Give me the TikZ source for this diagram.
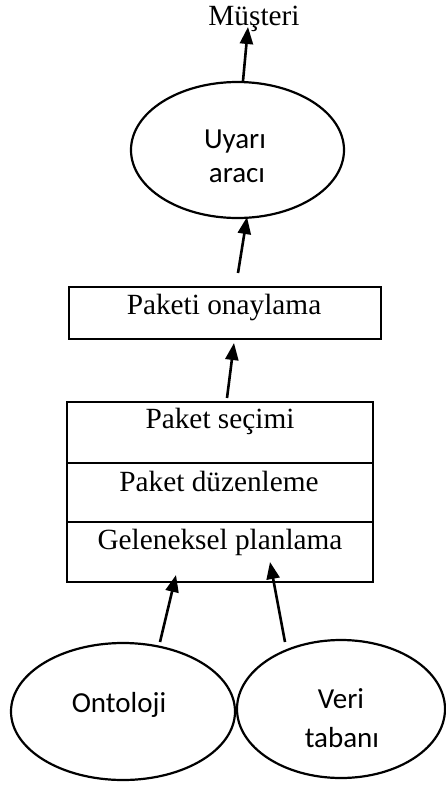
\documentclass[tikz,border=0pt]{standalone}
\usepackage{fontspec}
\setmainfont{Liberation Serif}
\newfontfamily\sansfnt{Carlito}
\usetikzlibrary{arrows.meta,shapes.geometric}
\begin{document}
\begin{tikzpicture}[x=1pt,y=-1pt,
  ell/.style={draw,ellipse,line width=2.2pt,inner sep=0pt},
  box/.style={draw,rectangle,line width=2.6pt,inner sep=0pt,minimum width=306pt},
  serif/.style={anchor=base,inner sep=0pt,font=\fontsize{29.3}{34}\selectfont},
  sanstxt/.style={anchor=base,inner sep=0pt,font=\sansfnt\fontsize{29}{34}\selectfont},
  arr/.style={line width=2.6pt,-{Triangle[length=17pt,width=13pt]}}]
\useasboundingbox (0,0) rectangle (446,785);
% ellipses
\node[ell,minimum width=213pt,minimum height=136pt] (e1) at (237.5,150) {};
\node[ell,minimum width=224pt,minimum height=137pt] (e2) at (123,711.5) {};
\node[ell,minimum width=208pt,minimum height=138pt] (e3) at (341,709) {};
% boxes
\node[box,minimum width=312pt,minimum height=52pt] (r0) at (225,313) {};
\node[box,minimum height=61pt] (c1) at (220,432.5) {};
\node[box,minimum height=59pt] (c2) at (220,492.5) {};
\node[box,minimum height=60pt] (c3) at (220,552) {};
% texts
\node[serif] (tm) at (254,25) {Müşteri};
\node[sanstxt] (tu1) at (235,148) {Uyarı};
\node[sanstxt] (tu2) at (237,182) {aracı};
\node[serif] (tp) at (224,314) {Paketi onaylama};
\node[serif] (ts) at (220,428) {Paket seçimi};
\node[serif] (td) at (219,491) {Paket düzenleme};
\node[serif] (tg) at (220,549) {Geleneksel planlama};
\node[sanstxt] (to) at (119,712) {Ontoloji};
\node[sanstxt] (tv1) at (341,708) {Veri};
\node[sanstxt] (tv2) at (342,747) {tabanı};
% connector end points
\coordinate (a1s) at (243,81);
\coordinate (a1e) at (248,27);
\coordinate (a2s) at (238,273);
\coordinate (a2e) at (247,217);
\coordinate (a3s) at (227,398);
\coordinate (a3e) at (234,343);
\coordinate (a4s) at (160,642);
\coordinate (a4e) at (176,575);
\coordinate (a5s) at (285,642);
\coordinate (a5e) at (270,562);
\draw[arr] (a1s) -- (a1e);
\draw[arr] (a2s) -- (a2e);
\draw[arr] (a3s) -- (a3e);
\draw[arr] (a4s) -- (a4e);
\draw[arr] (a5s) -- (a5e);
\end{tikzpicture}
\end{document}
